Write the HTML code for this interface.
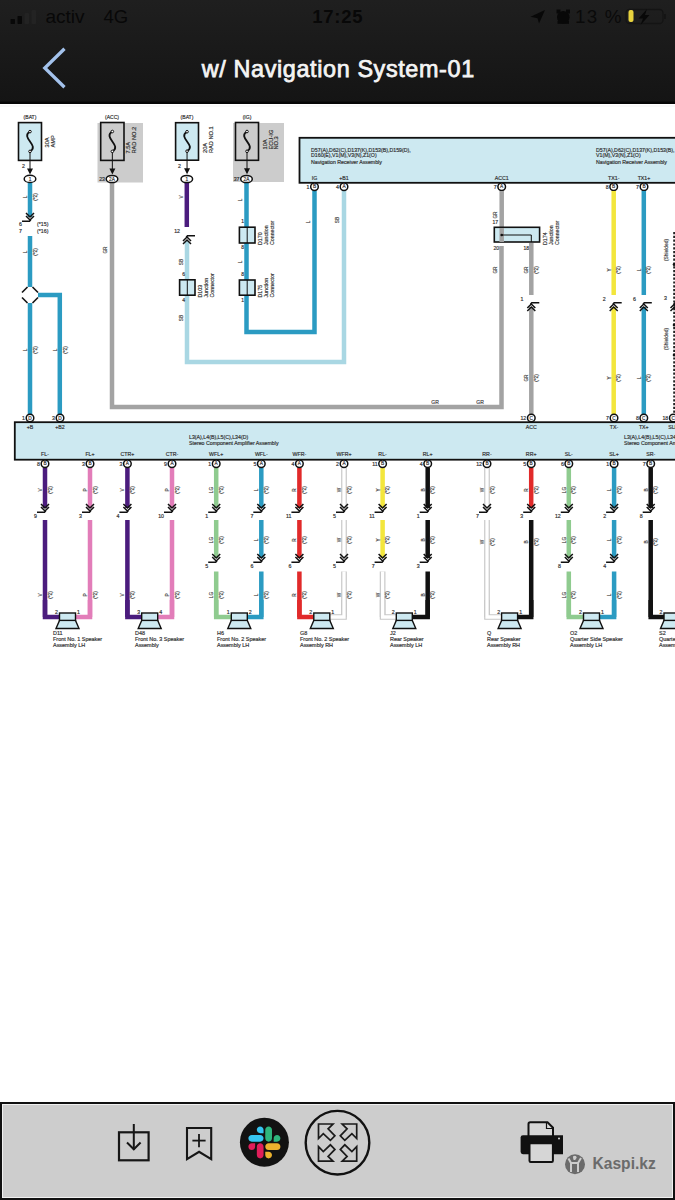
<!DOCTYPE html><html><head><meta charset='utf-8'><style>
html,body{margin:0;padding:0;background:#fff;}
body{width:675px;height:1200px;overflow:hidden;position:relative;font-family:"Liberation Sans",sans-serif;}
svg{position:absolute;left:0;top:0;}
</style></head><body>
<svg width='675' height='1200' viewBox='0 0 675 1200' font-family='Liberation Sans, sans-serif'>
<defs><linearGradient id='hg' x1='0' y1='0' x2='0' y2='1'>
<stop offset='0' stop-color='#1f1f1f'/><stop offset='1' stop-color='#141414'/></linearGradient></defs>
<rect x='0' y='0' width='675' height='1200' fill='#fff'/>
<g id='diagram'>
<rect x='97.5' y='123' width='45.5' height='59.5' fill='#cccccc'/>
<rect x='233' y='123' width='51' height='59' fill='#cccccc'/>
<rect x='299.5' y='137.8' width='400' height='45' fill='#cde9f1' stroke='#111' stroke-width='1.8'/>
<rect x='14.8' y='422.2' width='700' height='37.5' fill='#cde9f1' stroke='#111' stroke-width='1.8'/>
<rect x='18.5' y='122.6' width='23.0' height='37.80000000000001' fill='#cde9f1' stroke='#111' stroke-width='1.6'/>
<path d='M30.0,131.6 C20.0,137.54 40.0,145.46 30.0,151.4' fill='none' stroke='#111' stroke-width='1.8'/>
<circle cx='30.0' cy='131.6' r='1.3' fill='#fff' stroke='#111' stroke-width='1'/>
<circle cx='30.0' cy='151.4' r='1.3' fill='#fff' stroke='#111' stroke-width='1'/>
<line x1='30.0' y1='152.4' x2='30.0' y2='172.4' stroke='#111' stroke-width='1'/>
<polygon points='27.0,168.4 33.0,168.4 30.0,174.4' fill='#111'/>
<text x='30' y='119' font-size='5.04' text-anchor='middle' fill='#333' font-weight='normal' stroke='#333' stroke-width='0.18'>(BAT)</text>
<text x='49' y='147.5' font-size='5.67' text-anchor='start' fill='#333' font-weight='normal' stroke='#333' stroke-width='0.18' transform='rotate(-90 49 147.5)'>30A</text>
<text x='54.5' y='147.5' font-size='5.67' text-anchor='start' fill='#333' font-weight='normal' stroke='#333' stroke-width='0.18' transform='rotate(-90 54.5 147.5)'>AMP</text>
<text x='25' y='168' font-size='5.25' text-anchor='end' fill='#333' font-weight='normal' stroke='#333' stroke-width='0.18'>2</text>
<rect x='27.75' y='182' width='4.5' height='35' fill='#2b9bc2'/>
<text x='27' y='197' font-size='4.73' text-anchor='middle' fill='#444' font-weight='normal' stroke='#444' stroke-width='0.18' transform='rotate(-90 27 197)'>L</text>
<text x='36.5' y='197' font-size='4.73' text-anchor='middle' fill='#444' font-weight='normal' stroke='#444' stroke-width='0.18' transform='rotate(-90 36.5 197)'>(*2)</text>
<polyline points='26,216 30,220 34,216' fill='none' stroke='#111' stroke-width='1.5'/>
<polyline points='26,213 30,217 34,213' fill='none' stroke='#111' stroke-width='1.5'/>
<polyline points='22,221.3 29.5,221.3 30.8,219.8' fill='none' stroke='#111' stroke-width='1.5'/>
<text x='22' y='226' font-size='5.25' text-anchor='end' fill='#333' font-weight='normal' stroke='#333' stroke-width='0.18'>6</text>
<text x='37' y='226' font-size='5.25' text-anchor='start' fill='#333' font-weight='normal' stroke='#333' stroke-width='0.18'>(*15)</text>
<text x='22' y='233' font-size='5.25' text-anchor='end' fill='#333' font-weight='normal' stroke='#333' stroke-width='0.18'>7</text>
<text x='37' y='233' font-size='5.25' text-anchor='start' fill='#333' font-weight='normal' stroke='#333' stroke-width='0.18'>(*16)</text>
<rect x='27.75' y='236' width='4.5' height='51' fill='#2b9bc2'/>
<text x='27' y='252' font-size='4.73' text-anchor='middle' fill='#444' font-weight='normal' stroke='#444' stroke-width='0.18' transform='rotate(-90 27 252)'>L</text>
<text x='36.5' y='252' font-size='4.73' text-anchor='middle' fill='#444' font-weight='normal' stroke='#444' stroke-width='0.18' transform='rotate(-90 36.5 252)'>(*2)</text>
<polyline points='38,295 59.8,295 59.8,414' fill='none' stroke='#2b9bc2' stroke-width='4.5' stroke-linejoin='miter'/>
<rect x='27.75' y='303' width='4.5' height='111' fill='#2b9bc2'/>
<text x='27' y='350' font-size='4.73' text-anchor='middle' fill='#444' font-weight='normal' stroke='#444' stroke-width='0.18' transform='rotate(-90 27 350)'>L</text>
<text x='36.5' y='350' font-size='4.73' text-anchor='middle' fill='#444' font-weight='normal' stroke='#444' stroke-width='0.18' transform='rotate(-90 36.5 350)'>(*2)</text>
<text x='57' y='350' font-size='4.73' text-anchor='middle' fill='#444' font-weight='normal' stroke='#444' stroke-width='0.18' transform='rotate(-90 57 350)'>L</text>
<text x='66.5' y='350' font-size='4.73' text-anchor='middle' fill='#444' font-weight='normal' stroke='#444' stroke-width='0.18' transform='rotate(-90 66.5 350)'>(*2)</text>
<line x1='32.52' y1='287.02' x2='37.98' y2='292.48' stroke='#111' stroke-width='1.6'/>
<line x1='37.98' y1='297.52' x2='32.52' y2='302.98' stroke='#111' stroke-width='1.6'/>
<line x1='27.48' y1='302.98' x2='22.02' y2='297.52' stroke='#111' stroke-width='1.6'/>
<line x1='22.02' y1='292.48' x2='27.48' y2='287.02' stroke='#111' stroke-width='1.6'/>
<ellipse cx='30' cy='178.9' rx='5.8' ry='3.6' fill='#fff' stroke='#111' stroke-width='1.5'/>
<text x='30' y='180.5' font-size='4.73' text-anchor='middle' fill='#333' font-weight='normal' stroke='#333' stroke-width='0.18'>1</text>
<rect x='100.7' y='122.5' width='23.299999999999997' height='37.900000000000006' fill='#cccccc' stroke='#111' stroke-width='1.6'/>
<path d='M112.35,131.5 C102.35,137.47 122.35,145.43 112.35,151.4' fill='none' stroke='#111' stroke-width='1.8'/>
<circle cx='112.35' cy='131.5' r='1.3' fill='#fff' stroke='#111' stroke-width='1'/>
<circle cx='112.35' cy='151.4' r='1.3' fill='#fff' stroke='#111' stroke-width='1'/>
<line x1='112.35' y1='152.4' x2='112.35' y2='172.4' stroke='#111' stroke-width='1'/>
<polygon points='109.35,168.4 115.35,168.4 112.35,174.4' fill='#111'/>
<text x='112' y='119' font-size='5.04' text-anchor='middle' fill='#333' font-weight='normal' stroke='#333' stroke-width='0.18'>(ACC)</text>
<text x='130.3' y='153.5' font-size='5.67' text-anchor='start' fill='#333' font-weight='normal' stroke='#333' stroke-width='0.18' transform='rotate(-90 130.3 153.5)'>7.5A</text>
<text x='135.8' y='153.5' font-size='5.67' text-anchor='start' fill='#333' font-weight='normal' stroke='#333' stroke-width='0.18' transform='rotate(-90 135.8 153.5)'>RAD NO.2</text>
<polyline points='112,183 112,407 501.5,407 501.5,246' fill='none' stroke='#a3a3a3' stroke-width='4.5' stroke-linejoin='miter'/>
<text x='107' y='250' font-size='4.73' text-anchor='middle' fill='#444' font-weight='normal' stroke='#444' stroke-width='0.18' transform='rotate(-90 107 250)'>GR</text>
<text x='435' y='404' font-size='5.04' text-anchor='middle' fill='#444' font-weight='normal' stroke='#444' stroke-width='0.18'>GR</text>
<text x='480' y='404' font-size='5.04' text-anchor='middle' fill='#444' font-weight='normal' stroke='#444' stroke-width='0.18'>GR</text>
<ellipse cx='112' cy='179' rx='5.8' ry='3.6' fill='#fff' stroke='#111' stroke-width='1.5'/>
<text x='112' y='180.6' font-size='4.73' text-anchor='middle' fill='#333' font-weight='normal' stroke='#333' stroke-width='0.18'>2A</text>
<text x='105' y='180.8' font-size='5.25' text-anchor='end' fill='#333' font-weight='normal' stroke='#333' stroke-width='0.18'>23</text>
<rect x='175.6' y='122.7' width='22.900000000000006' height='37.499999999999986' fill='#cde9f1' stroke='#111' stroke-width='1.6'/>
<path d='M187.05,131.7 C177.05,137.54999999999998 197.05,145.35 187.05,151.2' fill='none' stroke='#111' stroke-width='1.8'/>
<circle cx='187.05' cy='131.7' r='1.3' fill='#fff' stroke='#111' stroke-width='1'/>
<circle cx='187.05' cy='151.2' r='1.3' fill='#fff' stroke='#111' stroke-width='1'/>
<line x1='187.05' y1='152.2' x2='187.05' y2='172.2' stroke='#111' stroke-width='1'/>
<polygon points='184.05,168.2 190.05,168.2 187.05,174.2' fill='#111'/>
<text x='187' y='119' font-size='5.04' text-anchor='middle' fill='#333' font-weight='normal' stroke='#333' stroke-width='0.18'>(BAT)</text>
<text x='207' y='153' font-size='5.67' text-anchor='start' fill='#333' font-weight='normal' stroke='#333' stroke-width='0.18' transform='rotate(-90 207 153)'>20A</text>
<text x='212.5' y='153' font-size='5.67' text-anchor='start' fill='#333' font-weight='normal' stroke='#333' stroke-width='0.18' transform='rotate(-90 212.5 153)'>RAD NO.1</text>
<text x='181' y='168' font-size='5.25' text-anchor='end' fill='#333' font-weight='normal' stroke='#333' stroke-width='0.18'>2</text>
<rect x='184.55' y='183' width='4.5' height='44' fill='#4b1c7d'/>
<text x='183' y='197' font-size='4.73' text-anchor='middle' fill='#444' font-weight='normal' stroke='#444' stroke-width='0.18' transform='rotate(-90 183 197)'>V</text>
<text x='180' y='233' font-size='5.25' text-anchor='end' fill='#333' font-weight='normal' stroke='#333' stroke-width='0.18'>12</text>
<polyline points='187,241 187,362 344,362 344,191' fill='none' stroke='#a9d7e3' stroke-width='4.5' stroke-linejoin='miter'/>
<polyline points='183,241 187,237 191,241' fill='none' stroke='#111' stroke-width='1.5'/>
<polyline points='183,244 187,240 191,244' fill='none' stroke='#111' stroke-width='1.5'/>
<polyline points='195,235.7 187.5,235.7 186.2,237.2' fill='none' stroke='#111' stroke-width='1.5'/>
<text x='183' y='262' font-size='4.73' text-anchor='middle' fill='#444' font-weight='normal' stroke='#444' stroke-width='0.18' transform='rotate(-90 183 262)'>SB</text>
<text x='183' y='318' font-size='4.73' text-anchor='middle' fill='#444' font-weight='normal' stroke='#444' stroke-width='0.18' transform='rotate(-90 183 318)'>SB</text>
<text x='339' y='220' font-size='4.73' text-anchor='middle' fill='#444' font-weight='normal' stroke='#444' stroke-width='0.18' transform='rotate(-90 339 220)'>SB</text>
<rect x='179.6' y='279.8' width='15.400000000000006' height='15.399999999999977' fill='#cde9f1' stroke='#111' stroke-width='1.6'/>
<line x1='187.3' y1='279.8' x2='187.3' y2='295.2' stroke='#111' stroke-width='1'/>
<text x='185' y='276' font-size='5.04' text-anchor='end' fill='#333' font-weight='normal' stroke='#333' stroke-width='0.18'>6</text>
<text x='185' y='302' font-size='5.04' text-anchor='end' fill='#333' font-weight='normal' stroke='#333' stroke-width='0.18'>4</text>
<text x='201.8' y='297.5' font-size='5.25' text-anchor='start' fill='#333' font-weight='normal' stroke='#333' stroke-width='0.18' transform='rotate(-90 201.8 297.5)'>D103</text>
<text x='207.8' y='297.5' font-size='5.25' text-anchor='start' fill='#333' font-weight='normal' stroke='#333' stroke-width='0.18' transform='rotate(-90 207.8 297.5)'>Junction</text>
<text x='213.8' y='297.5' font-size='5.25' text-anchor='start' fill='#333' font-weight='normal' stroke='#333' stroke-width='0.18' transform='rotate(-90 213.8 297.5)'>Connector</text>
<ellipse cx='186.8' cy='179' rx='5.8' ry='3.6' fill='#fff' stroke='#111' stroke-width='1.5'/>
<text x='186.8' y='180.6' font-size='4.73' text-anchor='middle' fill='#333' font-weight='normal' stroke='#333' stroke-width='0.18'>1</text>
<rect x='235.5' y='122.5' width='23.0' height='37.80000000000001' fill='#cccccc' stroke='#111' stroke-width='1.6'/>
<path d='M247.0,131.5 C237.0,137.44 257.0,145.36 247.0,151.3' fill='none' stroke='#111' stroke-width='1.8'/>
<circle cx='247.0' cy='131.5' r='1.3' fill='#fff' stroke='#111' stroke-width='1'/>
<circle cx='247.0' cy='151.3' r='1.3' fill='#fff' stroke='#111' stroke-width='1'/>
<line x1='247.0' y1='152.3' x2='247.0' y2='172.3' stroke='#111' stroke-width='1'/>
<polygon points='244.0,168.3 250.0,168.3 247.0,174.3' fill='#111'/>
<text x='247' y='119' font-size='5.04' text-anchor='middle' fill='#333' font-weight='normal' stroke='#333' stroke-width='0.18'>(IG)</text>
<text x='267' y='149.5' font-size='5.67' text-anchor='start' fill='#333' font-weight='normal' stroke='#333' stroke-width='0.18' transform='rotate(-90 267 149.5)'>10A</text>
<text x='272.5' y='149.5' font-size='5.67' text-anchor='start' fill='#333' font-weight='normal' stroke='#333' stroke-width='0.18' transform='rotate(-90 272.5 149.5)'>ECU-IG</text>
<text x='278' y='149.5' font-size='5.67' text-anchor='start' fill='#333' font-weight='normal' stroke='#333' stroke-width='0.18' transform='rotate(-90 278 149.5)'>NO.3</text>
<polyline points='246.5,183 246.5,332 314.5,332 314.5,191' fill='none' stroke='#2b9bc2' stroke-width='4.5' stroke-linejoin='miter'/>
<text x='242' y='200' font-size='4.73' text-anchor='middle' fill='#444' font-weight='normal' stroke='#444' stroke-width='0.18' transform='rotate(-90 242 200)'>L</text>
<text x='242' y='262' font-size='4.73' text-anchor='middle' fill='#444' font-weight='normal' stroke='#444' stroke-width='0.18' transform='rotate(-90 242 262)'>L</text>
<text x='310' y='222' font-size='4.73' text-anchor='middle' fill='#444' font-weight='normal' stroke='#444' stroke-width='0.18' transform='rotate(-90 310 222)'>L</text>
<rect x='239.4' y='227.2' width='15.599999999999994' height='15.800000000000011' fill='#cde9f1' stroke='#111' stroke-width='1.6'/>
<line x1='247.2' y1='227.2' x2='247.2' y2='243' stroke='#111' stroke-width='1'/>
<text x='244' y='223' font-size='5.04' text-anchor='end' fill='#333' font-weight='normal' stroke='#333' stroke-width='0.18'>1</text>
<text x='244' y='249' font-size='5.04' text-anchor='end' fill='#333' font-weight='normal' stroke='#333' stroke-width='0.18'>8</text>
<text x='261.8' y='245' font-size='5.25' text-anchor='start' fill='#333' font-weight='normal' stroke='#333' stroke-width='0.18' transform='rotate(-90 261.8 245)'>D170</text>
<text x='267.8' y='245' font-size='5.25' text-anchor='start' fill='#333' font-weight='normal' stroke='#333' stroke-width='0.18' transform='rotate(-90 267.8 245)'>Junction</text>
<text x='273.8' y='245' font-size='5.25' text-anchor='start' fill='#333' font-weight='normal' stroke='#333' stroke-width='0.18' transform='rotate(-90 273.8 245)'>Connector</text>
<rect x='239.4' y='280' width='15.599999999999994' height='15.199999999999989' fill='#cde9f1' stroke='#111' stroke-width='1.6'/>
<line x1='247.2' y1='280' x2='247.2' y2='295.2' stroke='#111' stroke-width='1'/>
<text x='244' y='276' font-size='5.04' text-anchor='end' fill='#333' font-weight='normal' stroke='#333' stroke-width='0.18'>8</text>
<text x='244' y='302' font-size='5.04' text-anchor='end' fill='#333' font-weight='normal' stroke='#333' stroke-width='0.18'>1</text>
<text x='261.8' y='297.5' font-size='5.25' text-anchor='start' fill='#333' font-weight='normal' stroke='#333' stroke-width='0.18' transform='rotate(-90 261.8 297.5)'>D175</text>
<text x='267.8' y='297.5' font-size='5.25' text-anchor='start' fill='#333' font-weight='normal' stroke='#333' stroke-width='0.18' transform='rotate(-90 267.8 297.5)'>Junction</text>
<text x='273.8' y='297.5' font-size='5.25' text-anchor='start' fill='#333' font-weight='normal' stroke='#333' stroke-width='0.18' transform='rotate(-90 273.8 297.5)'>Connector</text>
<ellipse cx='246.5' cy='179' rx='5.8' ry='3.6' fill='#fff' stroke='#111' stroke-width='1.5'/>
<text x='246.5' y='180.6' font-size='4.73' text-anchor='middle' fill='#333' font-weight='normal' stroke='#333' stroke-width='0.18'>2A</text>
<text x='239.5' y='180.8' font-size='5.25' text-anchor='end' fill='#333' font-weight='normal' stroke='#333' stroke-width='0.18'>37</text>
<text x='311' y='151.5' font-size='5.25' text-anchor='start' fill='#333' font-weight='normal' stroke='#333' stroke-width='0.18'>D57(A),D62(C),D137(K),D153(B),D159(D),</text>
<text x='311' y='157' font-size='5.25' text-anchor='start' fill='#333' font-weight='normal' stroke='#333' stroke-width='0.18'>D160(E),V1(M),V3(N),Z1(O)</text>
<text x='311' y='163.5' font-size='5.25' text-anchor='start' fill='#333' font-weight='normal' stroke='#333' stroke-width='0.18'>Navigation Receiver Assembly</text>
<text x='596' y='151.5' font-size='5.25' text-anchor='start' fill='#333' font-weight='normal' stroke='#333' stroke-width='0.18'>D57(A),D62(C),D137(K),D153(B),</text>
<text x='596' y='157' font-size='5.25' text-anchor='start' fill='#333' font-weight='normal' stroke='#333' stroke-width='0.18'>V1(M),V3(N),Z1(O)</text>
<text x='596' y='163.5' font-size='5.25' text-anchor='start' fill='#333' font-weight='normal' stroke='#333' stroke-width='0.18'>Navigation Receiver Assembly</text>
<text x='314.5' y='179.5' font-size='5.25' text-anchor='middle' fill='#333' font-weight='normal' stroke='#333' stroke-width='0.18'>IG</text>
<text x='344' y='179.5' font-size='5.25' text-anchor='middle' fill='#333' font-weight='normal' stroke='#333' stroke-width='0.18'>+B1</text>
<text x='501.7' y='179.5' font-size='5.25' text-anchor='middle' fill='#333' font-weight='normal' stroke='#333' stroke-width='0.18'>ACC1</text>
<text x='613.7' y='179.5' font-size='5.25' text-anchor='middle' fill='#333' font-weight='normal' stroke='#333' stroke-width='0.18'>TX1-</text>
<text x='644' y='179.5' font-size='5.25' text-anchor='middle' fill='#333' font-weight='normal' stroke='#333' stroke-width='0.18'>TX1+</text>
<circle cx='314.5' cy='186.7' r='3.8' fill='#fff' stroke='#111' stroke-width='1.5'/>
<text x='314.5' y='188.39999999999998' font-size='4.73' text-anchor='middle' fill='#333' font-weight='normal' stroke='#333' stroke-width='0.18'>B</text>
<text x='309.5' y='188.5' font-size='5.25' text-anchor='end' fill='#333' font-weight='normal' stroke='#333' stroke-width='0.18'>1</text>
<circle cx='344' cy='186.7' r='3.8' fill='#fff' stroke='#111' stroke-width='1.5'/>
<text x='344' y='188.39999999999998' font-size='4.73' text-anchor='middle' fill='#333' font-weight='normal' stroke='#333' stroke-width='0.18'>A</text>
<text x='339' y='188.5' font-size='5.25' text-anchor='end' fill='#333' font-weight='normal' stroke='#333' stroke-width='0.18'>4</text>
<circle cx='501.7' cy='186.7' r='3.8' fill='#fff' stroke='#111' stroke-width='1.5'/>
<text x='501.7' y='188.39999999999998' font-size='4.73' text-anchor='middle' fill='#333' font-weight='normal' stroke='#333' stroke-width='0.18'>A</text>
<text x='496.7' y='188.5' font-size='5.25' text-anchor='end' fill='#333' font-weight='normal' stroke='#333' stroke-width='0.18'>7</text>
<circle cx='613.7' cy='186.7' r='3.8' fill='#fff' stroke='#111' stroke-width='1.5'/>
<text x='613.7' y='188.39999999999998' font-size='4.73' text-anchor='middle' fill='#333' font-weight='normal' stroke='#333' stroke-width='0.18'>B</text>
<text x='608.7' y='188.5' font-size='5.25' text-anchor='end' fill='#333' font-weight='normal' stroke='#333' stroke-width='0.18'>8</text>
<circle cx='644' cy='186.7' r='3.8' fill='#fff' stroke='#111' stroke-width='1.5'/>
<text x='644' y='188.39999999999998' font-size='4.73' text-anchor='middle' fill='#333' font-weight='normal' stroke='#333' stroke-width='0.18'>B</text>
<text x='639' y='188.5' font-size='5.25' text-anchor='end' fill='#333' font-weight='normal' stroke='#333' stroke-width='0.18'>7</text>
<rect x='499.45' y='191' width='4.5' height='37' fill='#a3a3a3'/>
<text x='497' y='215' font-size='4.73' text-anchor='middle' fill='#444' font-weight='normal' stroke='#444' stroke-width='0.18' transform='rotate(-90 497 215)'>GR</text>
<text x='498' y='223.5' font-size='5.04' text-anchor='end' fill='#333' font-weight='normal' stroke='#333' stroke-width='0.18'>17</text>
<rect x='494.3' y='227.3' width='45.30000000000001' height='14.699999999999989' fill='#cde9f1' stroke='#111' stroke-width='1.6'/>
<rect x='499.45' y='228' width='4.5' height='14' fill='#a3a3a3'/>
<polyline points='501.7,235 531.3,235 531.3,242' fill='none' stroke='#111' stroke-width='1'/>
<circle cx='501.7' cy='235' r='1.3' fill='#111'/>
<text x='499' y='250' font-size='5.04' text-anchor='end' fill='#333' font-weight='normal' stroke='#333' stroke-width='0.18'>20</text>
<text x='529' y='250' font-size='5.04' text-anchor='end' fill='#333' font-weight='normal' stroke='#333' stroke-width='0.18'>18</text>
<text x='546.8' y='245' font-size='5.25' text-anchor='start' fill='#333' font-weight='normal' stroke='#333' stroke-width='0.18' transform='rotate(-90 546.8 245)'>D174</text>
<text x='552.8' y='245' font-size='5.25' text-anchor='start' fill='#333' font-weight='normal' stroke='#333' stroke-width='0.18' transform='rotate(-90 552.8 245)'>Junction</text>
<text x='558.8' y='245' font-size='5.25' text-anchor='start' fill='#333' font-weight='normal' stroke='#333' stroke-width='0.18' transform='rotate(-90 558.8 245)'>Connector</text>
<text x='497' y='270' font-size='4.73' text-anchor='middle' fill='#444' font-weight='normal' stroke='#444' stroke-width='0.18' transform='rotate(-90 497 270)'>GR</text>
<rect x='529.05' y='243' width='4.5' height='52' fill='#a3a3a3'/>
<text x='528.3' y='270' font-size='4.73' text-anchor='middle' fill='#444' font-weight='normal' stroke='#444' stroke-width='0.18' transform='rotate(-90 528.3 270)'>GR</text>
<text x='537.8' y='270' font-size='4.73' text-anchor='middle' fill='#444' font-weight='normal' stroke='#444' stroke-width='0.18' transform='rotate(-90 537.8 270)'>(*2)</text>
<rect x='529.05' y='307' width='4.5' height='107' fill='#a3a3a3'/>
<text x='528.3' y='378' font-size='4.73' text-anchor='middle' fill='#444' font-weight='normal' stroke='#444' stroke-width='0.18' transform='rotate(-90 528.3 378)'>GR</text>
<text x='537.8' y='378' font-size='4.73' text-anchor='middle' fill='#444' font-weight='normal' stroke='#444' stroke-width='0.18' transform='rotate(-90 537.8 378)'>(*2)</text>
<polyline points='527.3,308 531.3,304 535.3,308' fill='none' stroke='#111' stroke-width='1.5'/>
<polyline points='527.3,311 531.3,307 535.3,311' fill='none' stroke='#111' stroke-width='1.5'/>
<polyline points='539.3,302.7 531.8,302.7 530.5,304.2' fill='none' stroke='#111' stroke-width='1.5'/>
<text x='523.3' y='301' font-size='5.25' text-anchor='end' fill='#333' font-weight='normal' stroke='#333' stroke-width='0.18'>1</text>
<rect x='611.45' y='191' width='4.5' height='104' fill='#f3e63c'/>
<text x='610.7' y='270' font-size='4.73' text-anchor='middle' fill='#444' font-weight='normal' stroke='#444' stroke-width='0.18' transform='rotate(-90 610.7 270)'>Y</text>
<text x='620.2' y='270' font-size='4.73' text-anchor='middle' fill='#444' font-weight='normal' stroke='#444' stroke-width='0.18' transform='rotate(-90 620.2 270)'>(*2)</text>
<rect x='611.45' y='307' width='4.5' height='107' fill='#f3e63c'/>
<text x='610.7' y='378' font-size='4.73' text-anchor='middle' fill='#444' font-weight='normal' stroke='#444' stroke-width='0.18' transform='rotate(-90 610.7 378)'>Y</text>
<text x='620.2' y='378' font-size='4.73' text-anchor='middle' fill='#444' font-weight='normal' stroke='#444' stroke-width='0.18' transform='rotate(-90 620.2 378)'>(*2)</text>
<polyline points='609.7,308 613.7,304 617.7,308' fill='none' stroke='#111' stroke-width='1.5'/>
<polyline points='609.7,311 613.7,307 617.7,311' fill='none' stroke='#111' stroke-width='1.5'/>
<polyline points='621.7,302.7 614.2,302.7 612.9000000000001,304.2' fill='none' stroke='#111' stroke-width='1.5'/>
<text x='605.7' y='301' font-size='5.25' text-anchor='end' fill='#333' font-weight='normal' stroke='#333' stroke-width='0.18'>2</text>
<rect x='641.55' y='191' width='4.5' height='104' fill='#2b9bc2'/>
<text x='640.8' y='270' font-size='4.73' text-anchor='middle' fill='#444' font-weight='normal' stroke='#444' stroke-width='0.18' transform='rotate(-90 640.8 270)'>L</text>
<text x='650.3' y='270' font-size='4.73' text-anchor='middle' fill='#444' font-weight='normal' stroke='#444' stroke-width='0.18' transform='rotate(-90 650.3 270)'>(*2)</text>
<rect x='641.55' y='307' width='4.5' height='107' fill='#2b9bc2'/>
<text x='640.8' y='378' font-size='4.73' text-anchor='middle' fill='#444' font-weight='normal' stroke='#444' stroke-width='0.18' transform='rotate(-90 640.8 378)'>L</text>
<text x='650.3' y='378' font-size='4.73' text-anchor='middle' fill='#444' font-weight='normal' stroke='#444' stroke-width='0.18' transform='rotate(-90 650.3 378)'>(*2)</text>
<polyline points='639.8,308 643.8,304 647.8,308' fill='none' stroke='#111' stroke-width='1.5'/>
<polyline points='639.8,311 643.8,307 647.8,311' fill='none' stroke='#111' stroke-width='1.5'/>
<polyline points='651.8,302.7 644.3,302.7 643.0,304.2' fill='none' stroke='#111' stroke-width='1.5'/>
<text x='635.8' y='301' font-size='5.25' text-anchor='end' fill='#333' font-weight='normal' stroke='#333' stroke-width='0.18'>6</text>
<line x1='674.2' y1='232' x2='674.2' y2='414' stroke='#222' stroke-width='2' stroke-dasharray='2.2 1.6'/>
<polyline points='670.5,308 674.5,304 678.5,308' fill='none' stroke='#111' stroke-width='1.5'/>
<polyline points='670.5,311 674.5,307 678.5,311' fill='none' stroke='#111' stroke-width='1.5'/>
<polyline points='682.5,302.7 675.0,302.7 673.7,304.2' fill='none' stroke='#111' stroke-width='1.5'/>
<circle cx='674.2' cy='264.4' r='1.5' fill='#111'/>
<circle cx='674.2' cy='325' r='1.5' fill='#111'/>
<circle cx='674.2' cy='355' r='1.5' fill='#111'/>
<text x='668' y='250' font-size='4.83' text-anchor='middle' fill='#444' font-weight='normal' stroke='#444' stroke-width='0.18' transform='rotate(-90 668 250)'>(Shielded)</text>
<text x='668' y='339' font-size='4.83' text-anchor='middle' fill='#444' font-weight='normal' stroke='#444' stroke-width='0.18' transform='rotate(-90 668 339)'>(Shielded)</text>
<text x='667' y='300' font-size='5.25' text-anchor='end' fill='#333' font-weight='normal' stroke='#333' stroke-width='0.18'>3</text>
<circle cx='30' cy='418' r='3.8' fill='#fff' stroke='#111' stroke-width='1.5'/>
<text x='30' y='419.7' font-size='4.73' text-anchor='middle' fill='#333' font-weight='normal' stroke='#333' stroke-width='0.18'>D</text>
<text x='25' y='419.8' font-size='5.25' text-anchor='end' fill='#333' font-weight='normal' stroke='#333' stroke-width='0.18'>1</text>
<circle cx='60' cy='418' r='3.8' fill='#fff' stroke='#111' stroke-width='1.5'/>
<text x='60' y='419.7' font-size='4.73' text-anchor='middle' fill='#333' font-weight='normal' stroke='#333' stroke-width='0.18'>D</text>
<text x='55' y='419.8' font-size='5.25' text-anchor='end' fill='#333' font-weight='normal' stroke='#333' stroke-width='0.18'>3</text>
<circle cx='531.3' cy='418' r='3.8' fill='#fff' stroke='#111' stroke-width='1.5'/>
<text x='531.3' y='419.7' font-size='4.73' text-anchor='middle' fill='#333' font-weight='normal' stroke='#333' stroke-width='0.18'>C</text>
<text x='526.3' y='419.8' font-size='5.25' text-anchor='end' fill='#333' font-weight='normal' stroke='#333' stroke-width='0.18'>12</text>
<circle cx='614' cy='418' r='3.8' fill='#fff' stroke='#111' stroke-width='1.5'/>
<text x='614' y='419.7' font-size='4.73' text-anchor='middle' fill='#333' font-weight='normal' stroke='#333' stroke-width='0.18'>C</text>
<text x='609' y='419.8' font-size='5.25' text-anchor='end' fill='#333' font-weight='normal' stroke='#333' stroke-width='0.18'>7</text>
<circle cx='643.8' cy='418' r='3.8' fill='#fff' stroke='#111' stroke-width='1.5'/>
<text x='643.8' y='419.7' font-size='4.73' text-anchor='middle' fill='#333' font-weight='normal' stroke='#333' stroke-width='0.18'>C</text>
<text x='638.8' y='419.8' font-size='5.25' text-anchor='end' fill='#333' font-weight='normal' stroke='#333' stroke-width='0.18'>8</text>
<circle cx='673.3' cy='418' r='3.8' fill='#fff' stroke='#111' stroke-width='1.5'/>
<text x='673.3' y='419.7' font-size='4.73' text-anchor='middle' fill='#333' font-weight='normal' stroke='#333' stroke-width='0.18'>C</text>
<text x='668.3' y='419.8' font-size='5.25' text-anchor='end' fill='#333' font-weight='normal' stroke='#333' stroke-width='0.18'>18</text>
<text x='30' y='429' font-size='5.25' text-anchor='middle' fill='#333' font-weight='normal' stroke='#333' stroke-width='0.18'>+B</text>
<text x='60' y='429' font-size='5.25' text-anchor='middle' fill='#333' font-weight='normal' stroke='#333' stroke-width='0.18'>+B2</text>
<text x='531.3' y='429' font-size='5.25' text-anchor='middle' fill='#333' font-weight='normal' stroke='#333' stroke-width='0.18'>ACC</text>
<text x='614' y='429' font-size='5.25' text-anchor='middle' fill='#333' font-weight='normal' stroke='#333' stroke-width='0.18'>TX-</text>
<text x='643.8' y='429' font-size='5.25' text-anchor='middle' fill='#333' font-weight='normal' stroke='#333' stroke-width='0.18'>TX+</text>
<text x='673.3' y='429' font-size='5.25' text-anchor='middle' fill='#333' font-weight='normal' stroke='#333' stroke-width='0.18'>SLD</text>
<text x='189' y='438.5' font-size='5.25' text-anchor='start' fill='#333' font-weight='normal' stroke='#333' stroke-width='0.18'>L3(A),L4(B),L5(C),L34(D)</text>
<text x='189' y='444.5' font-size='5.25' text-anchor='start' fill='#333' font-weight='normal' stroke='#333' stroke-width='0.18'>Stereo Component Amplifier Assembly</text>
<text x='624' y='438.5' font-size='5.25' text-anchor='start' fill='#333' font-weight='normal' stroke='#333' stroke-width='0.18'>L3(A),L4(B),L5(C),L34(D)</text>
<text x='624' y='444.5' font-size='5.25' text-anchor='start' fill='#333' font-weight='normal' stroke='#333' stroke-width='0.18'>Stereo Component Amplifier Assembly</text>
<text x='45' y='456' font-size='5.25' text-anchor='middle' fill='#333' font-weight='normal' stroke='#333' stroke-width='0.18'>FL-</text>
<rect x='42.75' y='468' width='4.5' height='40' fill='#4b1c7d'/>
<text x='42' y='490' font-size='4.73' text-anchor='middle' fill='#444' font-weight='normal' stroke='#444' stroke-width='0.18' transform='rotate(-90 42 490)'>V</text>
<text x='51.5' y='490' font-size='4.73' text-anchor='middle' fill='#444' font-weight='normal' stroke='#444' stroke-width='0.18' transform='rotate(-90 51.5 490)'>(*2)</text>
<polyline points='41,507 45,511 49,507' fill='none' stroke='#111' stroke-width='1.5'/>
<polyline points='41,504 45,508 49,504' fill='none' stroke='#111' stroke-width='1.5'/>
<polyline points='37,512.3 44.5,512.3 45.8,510.8' fill='none' stroke='#111' stroke-width='1.5'/>
<text x='37' y='518' font-size='5.25' text-anchor='end' fill='#333' font-weight='normal' stroke='#333' stroke-width='0.18'>9</text>
<rect x='42.75' y='520' width='4.5' height='97' fill='#4b1c7d'/>
<text x='42' y='595' font-size='4.73' text-anchor='middle' fill='#444' font-weight='normal' stroke='#444' stroke-width='0.18' transform='rotate(-90 42 595)'>V</text>
<text x='51.5' y='595' font-size='4.73' text-anchor='middle' fill='#444' font-weight='normal' stroke='#444' stroke-width='0.18' transform='rotate(-90 51.5 595)'>(*2)</text>
<circle cx='45' cy='463.7' r='3.8' fill='#fff' stroke='#111' stroke-width='1.5'/>
<text x='45' y='465.4' font-size='4.73' text-anchor='middle' fill='#333' font-weight='normal' stroke='#333' stroke-width='0.18'>B</text>
<text x='40' y='465.5' font-size='5.25' text-anchor='end' fill='#333' font-weight='normal' stroke='#333' stroke-width='0.18'>8</text>
<text x='90' y='456' font-size='5.25' text-anchor='middle' fill='#333' font-weight='normal' stroke='#333' stroke-width='0.18'>FL+</text>
<rect x='87.75' y='468' width='4.5' height='40' fill='#e27db9'/>
<text x='87' y='490' font-size='4.73' text-anchor='middle' fill='#444' font-weight='normal' stroke='#444' stroke-width='0.18' transform='rotate(-90 87 490)'>P</text>
<text x='96.5' y='490' font-size='4.73' text-anchor='middle' fill='#444' font-weight='normal' stroke='#444' stroke-width='0.18' transform='rotate(-90 96.5 490)'>(*2)</text>
<polyline points='86,507 90,511 94,507' fill='none' stroke='#111' stroke-width='1.5'/>
<polyline points='86,504 90,508 94,504' fill='none' stroke='#111' stroke-width='1.5'/>
<polyline points='82,512.3 89.5,512.3 90.8,510.8' fill='none' stroke='#111' stroke-width='1.5'/>
<text x='82' y='518' font-size='5.25' text-anchor='end' fill='#333' font-weight='normal' stroke='#333' stroke-width='0.18'>3</text>
<rect x='87.75' y='520' width='4.5' height='97' fill='#e27db9'/>
<text x='87' y='595' font-size='4.73' text-anchor='middle' fill='#444' font-weight='normal' stroke='#444' stroke-width='0.18' transform='rotate(-90 87 595)'>P</text>
<text x='96.5' y='595' font-size='4.73' text-anchor='middle' fill='#444' font-weight='normal' stroke='#444' stroke-width='0.18' transform='rotate(-90 96.5 595)'>(*2)</text>
<circle cx='90' cy='463.7' r='3.8' fill='#fff' stroke='#111' stroke-width='1.5'/>
<text x='90' y='465.4' font-size='4.73' text-anchor='middle' fill='#333' font-weight='normal' stroke='#333' stroke-width='0.18'>B</text>
<text x='85' y='465.5' font-size='5.25' text-anchor='end' fill='#333' font-weight='normal' stroke='#333' stroke-width='0.18'>3</text>
<text x='127.4' y='456' font-size='5.25' text-anchor='middle' fill='#333' font-weight='normal' stroke='#333' stroke-width='0.18'>CTR+</text>
<rect x='125.15' y='468' width='4.5' height='40' fill='#4b1c7d'/>
<text x='124.4' y='490' font-size='4.73' text-anchor='middle' fill='#444' font-weight='normal' stroke='#444' stroke-width='0.18' transform='rotate(-90 124.4 490)'>V</text>
<text x='133.9' y='490' font-size='4.73' text-anchor='middle' fill='#444' font-weight='normal' stroke='#444' stroke-width='0.18' transform='rotate(-90 133.9 490)'>(*2)</text>
<polyline points='123.4,507 127.4,511 131.4,507' fill='none' stroke='#111' stroke-width='1.5'/>
<polyline points='123.4,504 127.4,508 131.4,504' fill='none' stroke='#111' stroke-width='1.5'/>
<polyline points='119.4,512.3 126.9,512.3 128.20000000000002,510.8' fill='none' stroke='#111' stroke-width='1.5'/>
<text x='119.4' y='518' font-size='5.25' text-anchor='end' fill='#333' font-weight='normal' stroke='#333' stroke-width='0.18'>4</text>
<rect x='125.15' y='520' width='4.5' height='97' fill='#4b1c7d'/>
<text x='124.4' y='595' font-size='4.73' text-anchor='middle' fill='#444' font-weight='normal' stroke='#444' stroke-width='0.18' transform='rotate(-90 124.4 595)'>V</text>
<text x='133.9' y='595' font-size='4.73' text-anchor='middle' fill='#444' font-weight='normal' stroke='#444' stroke-width='0.18' transform='rotate(-90 133.9 595)'>(*2)</text>
<circle cx='127.4' cy='463.7' r='3.8' fill='#fff' stroke='#111' stroke-width='1.5'/>
<text x='127.4' y='465.4' font-size='4.73' text-anchor='middle' fill='#333' font-weight='normal' stroke='#333' stroke-width='0.18'>A</text>
<text x='122.4' y='465.5' font-size='5.25' text-anchor='end' fill='#333' font-weight='normal' stroke='#333' stroke-width='0.18'>3</text>
<text x='172' y='456' font-size='5.25' text-anchor='middle' fill='#333' font-weight='normal' stroke='#333' stroke-width='0.18'>CTR-</text>
<rect x='169.75' y='468' width='4.5' height='40' fill='#e27db9'/>
<text x='169' y='490' font-size='4.73' text-anchor='middle' fill='#444' font-weight='normal' stroke='#444' stroke-width='0.18' transform='rotate(-90 169 490)'>P</text>
<text x='178.5' y='490' font-size='4.73' text-anchor='middle' fill='#444' font-weight='normal' stroke='#444' stroke-width='0.18' transform='rotate(-90 178.5 490)'>(*2)</text>
<polyline points='168,507 172,511 176,507' fill='none' stroke='#111' stroke-width='1.5'/>
<polyline points='168,504 172,508 176,504' fill='none' stroke='#111' stroke-width='1.5'/>
<polyline points='164,512.3 171.5,512.3 172.8,510.8' fill='none' stroke='#111' stroke-width='1.5'/>
<text x='164' y='518' font-size='5.25' text-anchor='end' fill='#333' font-weight='normal' stroke='#333' stroke-width='0.18'>10</text>
<rect x='169.75' y='520' width='4.5' height='97' fill='#e27db9'/>
<text x='169' y='595' font-size='4.73' text-anchor='middle' fill='#444' font-weight='normal' stroke='#444' stroke-width='0.18' transform='rotate(-90 169 595)'>P</text>
<text x='178.5' y='595' font-size='4.73' text-anchor='middle' fill='#444' font-weight='normal' stroke='#444' stroke-width='0.18' transform='rotate(-90 178.5 595)'>(*2)</text>
<circle cx='172' cy='463.7' r='3.8' fill='#fff' stroke='#111' stroke-width='1.5'/>
<text x='172' y='465.4' font-size='4.73' text-anchor='middle' fill='#333' font-weight='normal' stroke='#333' stroke-width='0.18'>A</text>
<text x='167' y='465.5' font-size='5.25' text-anchor='end' fill='#333' font-weight='normal' stroke='#333' stroke-width='0.18'>9</text>
<text x='216.2' y='456' font-size='5.25' text-anchor='middle' fill='#333' font-weight='normal' stroke='#333' stroke-width='0.18'>WFL+</text>
<rect x='213.95' y='468' width='4.5' height='40' fill='#8fcb8f'/>
<text x='213.2' y='490' font-size='4.73' text-anchor='middle' fill='#444' font-weight='normal' stroke='#444' stroke-width='0.18' transform='rotate(-90 213.2 490)'>LG</text>
<text x='222.7' y='490' font-size='4.73' text-anchor='middle' fill='#444' font-weight='normal' stroke='#444' stroke-width='0.18' transform='rotate(-90 222.7 490)'>(*2)</text>
<polyline points='212.2,507 216.2,511 220.2,507' fill='none' stroke='#111' stroke-width='1.5'/>
<polyline points='212.2,504 216.2,508 220.2,504' fill='none' stroke='#111' stroke-width='1.5'/>
<polyline points='208.2,512.3 215.7,512.3 217.0,510.8' fill='none' stroke='#111' stroke-width='1.5'/>
<text x='208.2' y='518' font-size='5.25' text-anchor='end' fill='#333' font-weight='normal' stroke='#333' stroke-width='0.18'>1</text>
<rect x='213.95' y='520' width='4.5' height='38' fill='#8fcb8f'/>
<text x='213.2' y='540' font-size='4.73' text-anchor='middle' fill='#444' font-weight='normal' stroke='#444' stroke-width='0.18' transform='rotate(-90 213.2 540)'>LG</text>
<text x='222.7' y='540' font-size='4.73' text-anchor='middle' fill='#444' font-weight='normal' stroke='#444' stroke-width='0.18' transform='rotate(-90 222.7 540)'>(*2)</text>
<polyline points='212.2,557 216.2,561 220.2,557' fill='none' stroke='#111' stroke-width='1.5'/>
<polyline points='212.2,554 216.2,558 220.2,554' fill='none' stroke='#111' stroke-width='1.5'/>
<polyline points='208.2,562.3 215.7,562.3 217.0,560.8' fill='none' stroke='#111' stroke-width='1.5'/>
<text x='208.2' y='568' font-size='5.25' text-anchor='end' fill='#333' font-weight='normal' stroke='#333' stroke-width='0.18'>5</text>
<rect x='213.95' y='571.5' width='4.5' height='45.5' fill='#8fcb8f'/>
<text x='213.2' y='595' font-size='4.73' text-anchor='middle' fill='#444' font-weight='normal' stroke='#444' stroke-width='0.18' transform='rotate(-90 213.2 595)'>LG</text>
<text x='222.7' y='595' font-size='4.73' text-anchor='middle' fill='#444' font-weight='normal' stroke='#444' stroke-width='0.18' transform='rotate(-90 222.7 595)'>(*2)</text>
<circle cx='216.2' cy='463.7' r='3.8' fill='#fff' stroke='#111' stroke-width='1.5'/>
<text x='216.2' y='465.4' font-size='4.73' text-anchor='middle' fill='#333' font-weight='normal' stroke='#333' stroke-width='0.18'>A</text>
<text x='211.2' y='465.5' font-size='5.25' text-anchor='end' fill='#333' font-weight='normal' stroke='#333' stroke-width='0.18'>1</text>
<text x='261.3' y='456' font-size='5.25' text-anchor='middle' fill='#333' font-weight='normal' stroke='#333' stroke-width='0.18'>WFL-</text>
<rect x='259.05' y='468' width='4.5' height='40' fill='#2b9bc2'/>
<text x='258.3' y='490' font-size='4.73' text-anchor='middle' fill='#444' font-weight='normal' stroke='#444' stroke-width='0.18' transform='rotate(-90 258.3 490)'>L</text>
<text x='267.8' y='490' font-size='4.73' text-anchor='middle' fill='#444' font-weight='normal' stroke='#444' stroke-width='0.18' transform='rotate(-90 267.8 490)'>(*2)</text>
<polyline points='257.3,507 261.3,511 265.3,507' fill='none' stroke='#111' stroke-width='1.5'/>
<polyline points='257.3,504 261.3,508 265.3,504' fill='none' stroke='#111' stroke-width='1.5'/>
<polyline points='253.3,512.3 260.8,512.3 262.1,510.8' fill='none' stroke='#111' stroke-width='1.5'/>
<text x='253.3' y='518' font-size='5.25' text-anchor='end' fill='#333' font-weight='normal' stroke='#333' stroke-width='0.18'>7</text>
<rect x='259.05' y='520' width='4.5' height='38' fill='#2b9bc2'/>
<text x='258.3' y='540' font-size='4.73' text-anchor='middle' fill='#444' font-weight='normal' stroke='#444' stroke-width='0.18' transform='rotate(-90 258.3 540)'>L</text>
<text x='267.8' y='540' font-size='4.73' text-anchor='middle' fill='#444' font-weight='normal' stroke='#444' stroke-width='0.18' transform='rotate(-90 267.8 540)'>(*2)</text>
<polyline points='257.3,557 261.3,561 265.3,557' fill='none' stroke='#111' stroke-width='1.5'/>
<polyline points='257.3,554 261.3,558 265.3,554' fill='none' stroke='#111' stroke-width='1.5'/>
<polyline points='253.3,562.3 260.8,562.3 262.1,560.8' fill='none' stroke='#111' stroke-width='1.5'/>
<text x='253.3' y='568' font-size='5.25' text-anchor='end' fill='#333' font-weight='normal' stroke='#333' stroke-width='0.18'>6</text>
<rect x='259.05' y='571.5' width='4.5' height='45.5' fill='#2b9bc2'/>
<text x='258.3' y='595' font-size='4.73' text-anchor='middle' fill='#444' font-weight='normal' stroke='#444' stroke-width='0.18' transform='rotate(-90 258.3 595)'>L</text>
<text x='267.8' y='595' font-size='4.73' text-anchor='middle' fill='#444' font-weight='normal' stroke='#444' stroke-width='0.18' transform='rotate(-90 267.8 595)'>(*2)</text>
<circle cx='261.3' cy='463.7' r='3.8' fill='#fff' stroke='#111' stroke-width='1.5'/>
<text x='261.3' y='465.4' font-size='4.73' text-anchor='middle' fill='#333' font-weight='normal' stroke='#333' stroke-width='0.18'>A</text>
<text x='256.3' y='465.5' font-size='5.25' text-anchor='end' fill='#333' font-weight='normal' stroke='#333' stroke-width='0.18'>5</text>
<text x='299.4' y='456' font-size='5.25' text-anchor='middle' fill='#333' font-weight='normal' stroke='#333' stroke-width='0.18'>WFR-</text>
<rect x='297.15' y='468' width='4.5' height='40' fill='#e12a2a'/>
<text x='296.4' y='490' font-size='4.73' text-anchor='middle' fill='#444' font-weight='normal' stroke='#444' stroke-width='0.18' transform='rotate(-90 296.4 490)'>R</text>
<text x='305.9' y='490' font-size='4.73' text-anchor='middle' fill='#444' font-weight='normal' stroke='#444' stroke-width='0.18' transform='rotate(-90 305.9 490)'>(*2)</text>
<polyline points='295.4,507 299.4,511 303.4,507' fill='none' stroke='#111' stroke-width='1.5'/>
<polyline points='295.4,504 299.4,508 303.4,504' fill='none' stroke='#111' stroke-width='1.5'/>
<polyline points='291.4,512.3 298.9,512.3 300.2,510.8' fill='none' stroke='#111' stroke-width='1.5'/>
<text x='291.4' y='518' font-size='5.25' text-anchor='end' fill='#333' font-weight='normal' stroke='#333' stroke-width='0.18'>11</text>
<rect x='297.15' y='520' width='4.5' height='38' fill='#e12a2a'/>
<text x='296.4' y='540' font-size='4.73' text-anchor='middle' fill='#444' font-weight='normal' stroke='#444' stroke-width='0.18' transform='rotate(-90 296.4 540)'>R</text>
<text x='305.9' y='540' font-size='4.73' text-anchor='middle' fill='#444' font-weight='normal' stroke='#444' stroke-width='0.18' transform='rotate(-90 305.9 540)'>(*2)</text>
<polyline points='295.4,557 299.4,561 303.4,557' fill='none' stroke='#111' stroke-width='1.5'/>
<polyline points='295.4,554 299.4,558 303.4,554' fill='none' stroke='#111' stroke-width='1.5'/>
<polyline points='291.4,562.3 298.9,562.3 300.2,560.8' fill='none' stroke='#111' stroke-width='1.5'/>
<text x='291.4' y='568' font-size='5.25' text-anchor='end' fill='#333' font-weight='normal' stroke='#333' stroke-width='0.18'>6</text>
<rect x='297.15' y='571.5' width='4.5' height='45.5' fill='#e12a2a'/>
<text x='296.4' y='595' font-size='4.73' text-anchor='middle' fill='#444' font-weight='normal' stroke='#444' stroke-width='0.18' transform='rotate(-90 296.4 595)'>R</text>
<text x='305.9' y='595' font-size='4.73' text-anchor='middle' fill='#444' font-weight='normal' stroke='#444' stroke-width='0.18' transform='rotate(-90 305.9 595)'>(*2)</text>
<circle cx='299.4' cy='463.7' r='3.8' fill='#fff' stroke='#111' stroke-width='1.5'/>
<text x='299.4' y='465.4' font-size='4.73' text-anchor='middle' fill='#333' font-weight='normal' stroke='#333' stroke-width='0.18'>A</text>
<text x='294.4' y='465.5' font-size='5.25' text-anchor='end' fill='#333' font-weight='normal' stroke='#333' stroke-width='0.18'>4</text>
<text x='344' y='456' font-size='5.25' text-anchor='middle' fill='#333' font-weight='normal' stroke='#333' stroke-width='0.18'>WFR+</text>
<rect x='341.15' y='468' width='5.70' height='40' fill='#c8c8c8'/>
<rect x='342.35' y='468' width='3.30' height='40' fill='#fff'/>
<text x='341' y='490' font-size='4.73' text-anchor='middle' fill='#444' font-weight='normal' stroke='#444' stroke-width='0.18' transform='rotate(-90 341 490)'>W</text>
<text x='350.5' y='490' font-size='4.73' text-anchor='middle' fill='#444' font-weight='normal' stroke='#444' stroke-width='0.18' transform='rotate(-90 350.5 490)'>(*2)</text>
<polyline points='340,507 344,511 348,507' fill='none' stroke='#111' stroke-width='1.5'/>
<polyline points='340,504 344,508 348,504' fill='none' stroke='#111' stroke-width='1.5'/>
<polyline points='336,512.3 343.5,512.3 344.8,510.8' fill='none' stroke='#111' stroke-width='1.5'/>
<text x='336' y='518' font-size='5.25' text-anchor='end' fill='#333' font-weight='normal' stroke='#333' stroke-width='0.18'>5</text>
<rect x='341.15' y='520' width='5.70' height='38' fill='#c8c8c8'/>
<rect x='342.35' y='520' width='3.30' height='38' fill='#fff'/>
<text x='341' y='540' font-size='4.73' text-anchor='middle' fill='#444' font-weight='normal' stroke='#444' stroke-width='0.18' transform='rotate(-90 341 540)'>W</text>
<text x='350.5' y='540' font-size='4.73' text-anchor='middle' fill='#444' font-weight='normal' stroke='#444' stroke-width='0.18' transform='rotate(-90 350.5 540)'>(*2)</text>
<polyline points='340,557 344,561 348,557' fill='none' stroke='#111' stroke-width='1.5'/>
<polyline points='340,554 344,558 348,554' fill='none' stroke='#111' stroke-width='1.5'/>
<polyline points='336,562.3 343.5,562.3 344.8,560.8' fill='none' stroke='#111' stroke-width='1.5'/>
<text x='336' y='568' font-size='5.25' text-anchor='end' fill='#333' font-weight='normal' stroke='#333' stroke-width='0.18'>5</text>
<rect x='341.15' y='571.5' width='5.70' height='45.5' fill='#c8c8c8'/>
<rect x='342.35' y='571.5' width='3.30' height='45.5' fill='#fff'/>
<text x='341' y='595' font-size='4.73' text-anchor='middle' fill='#444' font-weight='normal' stroke='#444' stroke-width='0.18' transform='rotate(-90 341 595)'>W</text>
<text x='350.5' y='595' font-size='4.73' text-anchor='middle' fill='#444' font-weight='normal' stroke='#444' stroke-width='0.18' transform='rotate(-90 350.5 595)'>(*2)</text>
<circle cx='344' cy='463.7' r='3.8' fill='#fff' stroke='#111' stroke-width='1.5'/>
<text x='344' y='465.4' font-size='4.73' text-anchor='middle' fill='#333' font-weight='normal' stroke='#333' stroke-width='0.18'>A</text>
<text x='339' y='465.5' font-size='5.25' text-anchor='end' fill='#333' font-weight='normal' stroke='#333' stroke-width='0.18'>2</text>
<text x='382.6' y='456' font-size='5.25' text-anchor='middle' fill='#333' font-weight='normal' stroke='#333' stroke-width='0.18'>RL-</text>
<rect x='380.35' y='468' width='4.5' height='40' fill='#f3e63c'/>
<text x='379.6' y='490' font-size='4.73' text-anchor='middle' fill='#444' font-weight='normal' stroke='#444' stroke-width='0.18' transform='rotate(-90 379.6 490)'>Y</text>
<text x='389.1' y='490' font-size='4.73' text-anchor='middle' fill='#444' font-weight='normal' stroke='#444' stroke-width='0.18' transform='rotate(-90 389.1 490)'>(*2)</text>
<polyline points='378.6,507 382.6,511 386.6,507' fill='none' stroke='#111' stroke-width='1.5'/>
<polyline points='378.6,504 382.6,508 386.6,504' fill='none' stroke='#111' stroke-width='1.5'/>
<polyline points='374.6,512.3 382.1,512.3 383.40000000000003,510.8' fill='none' stroke='#111' stroke-width='1.5'/>
<text x='374.6' y='518' font-size='5.25' text-anchor='end' fill='#333' font-weight='normal' stroke='#333' stroke-width='0.18'>11</text>
<rect x='380.35' y='520' width='4.5' height='38' fill='#f3e63c'/>
<text x='379.6' y='540' font-size='4.73' text-anchor='middle' fill='#444' font-weight='normal' stroke='#444' stroke-width='0.18' transform='rotate(-90 379.6 540)'>Y</text>
<text x='389.1' y='540' font-size='4.73' text-anchor='middle' fill='#444' font-weight='normal' stroke='#444' stroke-width='0.18' transform='rotate(-90 389.1 540)'>(*2)</text>
<polyline points='378.6,557 382.6,561 386.6,557' fill='none' stroke='#111' stroke-width='1.5'/>
<polyline points='378.6,554 382.6,558 386.6,554' fill='none' stroke='#111' stroke-width='1.5'/>
<polyline points='374.6,562.3 382.1,562.3 383.40000000000003,560.8' fill='none' stroke='#111' stroke-width='1.5'/>
<text x='374.6' y='568' font-size='5.25' text-anchor='end' fill='#333' font-weight='normal' stroke='#333' stroke-width='0.18'>7</text>
<rect x='379.75' y='571.5' width='5.70' height='45.5' fill='#c8c8c8'/>
<rect x='380.95' y='571.5' width='3.30' height='45.5' fill='#fff'/>
<text x='379.6' y='595' font-size='4.73' text-anchor='middle' fill='#444' font-weight='normal' stroke='#444' stroke-width='0.18' transform='rotate(-90 379.6 595)'>W</text>
<text x='389.1' y='595' font-size='4.73' text-anchor='middle' fill='#444' font-weight='normal' stroke='#444' stroke-width='0.18' transform='rotate(-90 389.1 595)'>(*2)</text>
<circle cx='382.6' cy='463.7' r='3.8' fill='#fff' stroke='#111' stroke-width='1.5'/>
<text x='382.6' y='465.4' font-size='4.73' text-anchor='middle' fill='#333' font-weight='normal' stroke='#333' stroke-width='0.18'>B</text>
<text x='377.6' y='465.5' font-size='5.25' text-anchor='end' fill='#333' font-weight='normal' stroke='#333' stroke-width='0.18'>11</text>
<text x='427.7' y='456' font-size='5.25' text-anchor='middle' fill='#333' font-weight='normal' stroke='#333' stroke-width='0.18'>RL+</text>
<rect x='425.45' y='468' width='4.5' height='40' fill='#111111'/>
<text x='424.7' y='490' font-size='4.73' text-anchor='middle' fill='#444' font-weight='normal' stroke='#444' stroke-width='0.18' transform='rotate(-90 424.7 490)'>B</text>
<text x='434.2' y='490' font-size='4.73' text-anchor='middle' fill='#444' font-weight='normal' stroke='#444' stroke-width='0.18' transform='rotate(-90 434.2 490)'>(*2)</text>
<polyline points='423.7,507 427.7,511 431.7,507' fill='none' stroke='#111' stroke-width='1.5'/>
<polyline points='423.7,504 427.7,508 431.7,504' fill='none' stroke='#111' stroke-width='1.5'/>
<polyline points='419.7,512.3 427.2,512.3 428.5,510.8' fill='none' stroke='#111' stroke-width='1.5'/>
<text x='419.7' y='518' font-size='5.25' text-anchor='end' fill='#333' font-weight='normal' stroke='#333' stroke-width='0.18'>1</text>
<rect x='425.45' y='520' width='4.5' height='38' fill='#111111'/>
<text x='424.7' y='540' font-size='4.73' text-anchor='middle' fill='#444' font-weight='normal' stroke='#444' stroke-width='0.18' transform='rotate(-90 424.7 540)'>B</text>
<text x='434.2' y='540' font-size='4.73' text-anchor='middle' fill='#444' font-weight='normal' stroke='#444' stroke-width='0.18' transform='rotate(-90 434.2 540)'>(*2)</text>
<polyline points='423.7,557 427.7,561 431.7,557' fill='none' stroke='#111' stroke-width='1.5'/>
<polyline points='423.7,554 427.7,558 431.7,554' fill='none' stroke='#111' stroke-width='1.5'/>
<polyline points='419.7,562.3 427.2,562.3 428.5,560.8' fill='none' stroke='#111' stroke-width='1.5'/>
<text x='419.7' y='568' font-size='5.25' text-anchor='end' fill='#333' font-weight='normal' stroke='#333' stroke-width='0.18'>3</text>
<rect x='425.45' y='571.5' width='4.5' height='45.5' fill='#111111'/>
<text x='424.7' y='595' font-size='4.73' text-anchor='middle' fill='#444' font-weight='normal' stroke='#444' stroke-width='0.18' transform='rotate(-90 424.7 595)'>B</text>
<text x='434.2' y='595' font-size='4.73' text-anchor='middle' fill='#444' font-weight='normal' stroke='#444' stroke-width='0.18' transform='rotate(-90 434.2 595)'>(*2)</text>
<circle cx='427.7' cy='463.7' r='3.8' fill='#fff' stroke='#111' stroke-width='1.5'/>
<text x='427.7' y='465.4' font-size='4.73' text-anchor='middle' fill='#333' font-weight='normal' stroke='#333' stroke-width='0.18'>B</text>
<text x='422.7' y='465.5' font-size='5.25' text-anchor='end' fill='#333' font-weight='normal' stroke='#333' stroke-width='0.18'>4</text>
<text x='487' y='456' font-size='5.25' text-anchor='middle' fill='#333' font-weight='normal' stroke='#333' stroke-width='0.18'>RR-</text>
<rect x='484.15' y='468' width='5.70' height='40' fill='#c8c8c8'/>
<rect x='485.35' y='468' width='3.30' height='40' fill='#fff'/>
<text x='484' y='490' font-size='4.73' text-anchor='middle' fill='#444' font-weight='normal' stroke='#444' stroke-width='0.18' transform='rotate(-90 484 490)'>W</text>
<text x='493.5' y='490' font-size='4.73' text-anchor='middle' fill='#444' font-weight='normal' stroke='#444' stroke-width='0.18' transform='rotate(-90 493.5 490)'>(*2)</text>
<polyline points='483,507 487,511 491,507' fill='none' stroke='#111' stroke-width='1.5'/>
<polyline points='483,504 487,508 491,504' fill='none' stroke='#111' stroke-width='1.5'/>
<polyline points='479,512.3 486.5,512.3 487.8,510.8' fill='none' stroke='#111' stroke-width='1.5'/>
<text x='479' y='518' font-size='5.25' text-anchor='end' fill='#333' font-weight='normal' stroke='#333' stroke-width='0.18'>7</text>
<rect x='484.15' y='520' width='5.70' height='97' fill='#c8c8c8'/>
<rect x='485.35' y='520' width='3.30' height='97' fill='#fff'/>
<text x='484' y='542' font-size='4.73' text-anchor='middle' fill='#444' font-weight='normal' stroke='#444' stroke-width='0.18' transform='rotate(-90 484 542)'>W</text>
<text x='493.5' y='542' font-size='4.73' text-anchor='middle' fill='#444' font-weight='normal' stroke='#444' stroke-width='0.18' transform='rotate(-90 493.5 542)'>(*2)</text>
<circle cx='487' cy='463.7' r='3.8' fill='#fff' stroke='#111' stroke-width='1.5'/>
<text x='487' y='465.4' font-size='4.73' text-anchor='middle' fill='#333' font-weight='normal' stroke='#333' stroke-width='0.18'>B</text>
<text x='482' y='465.5' font-size='5.25' text-anchor='end' fill='#333' font-weight='normal' stroke='#333' stroke-width='0.18'>12</text>
<text x='531.2' y='456' font-size='5.25' text-anchor='middle' fill='#333' font-weight='normal' stroke='#333' stroke-width='0.18'>RR+</text>
<rect x='528.95' y='468' width='4.5' height='40' fill='#e12a2a'/>
<text x='528.2' y='490' font-size='4.73' text-anchor='middle' fill='#444' font-weight='normal' stroke='#444' stroke-width='0.18' transform='rotate(-90 528.2 490)'>R</text>
<text x='537.7' y='490' font-size='4.73' text-anchor='middle' fill='#444' font-weight='normal' stroke='#444' stroke-width='0.18' transform='rotate(-90 537.7 490)'>(*2)</text>
<polyline points='527.2,507 531.2,511 535.2,507' fill='none' stroke='#111' stroke-width='1.5'/>
<polyline points='527.2,504 531.2,508 535.2,504' fill='none' stroke='#111' stroke-width='1.5'/>
<polyline points='523.2,512.3 530.7,512.3 532.0,510.8' fill='none' stroke='#111' stroke-width='1.5'/>
<text x='523.2' y='518' font-size='5.25' text-anchor='end' fill='#333' font-weight='normal' stroke='#333' stroke-width='0.18'>3</text>
<rect x='528.95' y='520' width='4.5' height='97' fill='#111111'/>
<text x='528.2' y='542' font-size='4.73' text-anchor='middle' fill='#444' font-weight='normal' stroke='#444' stroke-width='0.18' transform='rotate(-90 528.2 542)'>B</text>
<text x='537.7' y='542' font-size='4.73' text-anchor='middle' fill='#444' font-weight='normal' stroke='#444' stroke-width='0.18' transform='rotate(-90 537.7 542)'>(*2)</text>
<circle cx='531.2' cy='463.7' r='3.8' fill='#fff' stroke='#111' stroke-width='1.5'/>
<text x='531.2' y='465.4' font-size='4.73' text-anchor='middle' fill='#333' font-weight='normal' stroke='#333' stroke-width='0.18'>B</text>
<text x='526.2' y='465.5' font-size='5.25' text-anchor='end' fill='#333' font-weight='normal' stroke='#333' stroke-width='0.18'>5</text>
<text x='568.8' y='456' font-size='5.25' text-anchor='middle' fill='#333' font-weight='normal' stroke='#333' stroke-width='0.18'>SL-</text>
<rect x='566.55' y='468' width='4.5' height='40' fill='#8fcb8f'/>
<text x='565.8' y='490' font-size='4.73' text-anchor='middle' fill='#444' font-weight='normal' stroke='#444' stroke-width='0.18' transform='rotate(-90 565.8 490)'>LG</text>
<text x='575.3' y='490' font-size='4.73' text-anchor='middle' fill='#444' font-weight='normal' stroke='#444' stroke-width='0.18' transform='rotate(-90 575.3 490)'>(*2)</text>
<polyline points='564.8,507 568.8,511 572.8,507' fill='none' stroke='#111' stroke-width='1.5'/>
<polyline points='564.8,504 568.8,508 572.8,504' fill='none' stroke='#111' stroke-width='1.5'/>
<polyline points='560.8,512.3 568.3,512.3 569.5999999999999,510.8' fill='none' stroke='#111' stroke-width='1.5'/>
<text x='560.8' y='518' font-size='5.25' text-anchor='end' fill='#333' font-weight='normal' stroke='#333' stroke-width='0.18'>12</text>
<rect x='566.55' y='520' width='4.5' height='38' fill='#8fcb8f'/>
<text x='565.8' y='540' font-size='4.73' text-anchor='middle' fill='#444' font-weight='normal' stroke='#444' stroke-width='0.18' transform='rotate(-90 565.8 540)'>LG</text>
<text x='575.3' y='540' font-size='4.73' text-anchor='middle' fill='#444' font-weight='normal' stroke='#444' stroke-width='0.18' transform='rotate(-90 575.3 540)'>(*2)</text>
<polyline points='564.8,557 568.8,561 572.8,557' fill='none' stroke='#111' stroke-width='1.5'/>
<polyline points='564.8,554 568.8,558 572.8,554' fill='none' stroke='#111' stroke-width='1.5'/>
<polyline points='560.8,562.3 568.3,562.3 569.5999999999999,560.8' fill='none' stroke='#111' stroke-width='1.5'/>
<text x='560.8' y='568' font-size='5.25' text-anchor='end' fill='#333' font-weight='normal' stroke='#333' stroke-width='0.18'>8</text>
<rect x='566.55' y='571.5' width='4.5' height='45.5' fill='#8fcb8f'/>
<text x='565.8' y='595' font-size='4.73' text-anchor='middle' fill='#444' font-weight='normal' stroke='#444' stroke-width='0.18' transform='rotate(-90 565.8 595)'>LG</text>
<text x='575.3' y='595' font-size='4.73' text-anchor='middle' fill='#444' font-weight='normal' stroke='#444' stroke-width='0.18' transform='rotate(-90 575.3 595)'>(*2)</text>
<circle cx='568.8' cy='463.7' r='3.8' fill='#fff' stroke='#111' stroke-width='1.5'/>
<text x='568.8' y='465.4' font-size='4.73' text-anchor='middle' fill='#333' font-weight='normal' stroke='#333' stroke-width='0.18'>B</text>
<text x='563.8' y='465.5' font-size='5.25' text-anchor='end' fill='#333' font-weight='normal' stroke='#333' stroke-width='0.18'>6</text>
<text x='614.1' y='456' font-size='5.25' text-anchor='middle' fill='#333' font-weight='normal' stroke='#333' stroke-width='0.18'>SL+</text>
<rect x='611.85' y='468' width='4.5' height='40' fill='#2b9bc2'/>
<text x='611.1' y='490' font-size='4.73' text-anchor='middle' fill='#444' font-weight='normal' stroke='#444' stroke-width='0.18' transform='rotate(-90 611.1 490)'>L</text>
<text x='620.6' y='490' font-size='4.73' text-anchor='middle' fill='#444' font-weight='normal' stroke='#444' stroke-width='0.18' transform='rotate(-90 620.6 490)'>(*2)</text>
<polyline points='610.1,507 614.1,511 618.1,507' fill='none' stroke='#111' stroke-width='1.5'/>
<polyline points='610.1,504 614.1,508 618.1,504' fill='none' stroke='#111' stroke-width='1.5'/>
<polyline points='606.1,512.3 613.6,512.3 614.9,510.8' fill='none' stroke='#111' stroke-width='1.5'/>
<text x='606.1' y='518' font-size='5.25' text-anchor='end' fill='#333' font-weight='normal' stroke='#333' stroke-width='0.18'>2</text>
<rect x='611.85' y='520' width='4.5' height='38' fill='#2b9bc2'/>
<text x='611.1' y='540' font-size='4.73' text-anchor='middle' fill='#444' font-weight='normal' stroke='#444' stroke-width='0.18' transform='rotate(-90 611.1 540)'>L</text>
<text x='620.6' y='540' font-size='4.73' text-anchor='middle' fill='#444' font-weight='normal' stroke='#444' stroke-width='0.18' transform='rotate(-90 620.6 540)'>(*2)</text>
<polyline points='610.1,557 614.1,561 618.1,557' fill='none' stroke='#111' stroke-width='1.5'/>
<polyline points='610.1,554 614.1,558 618.1,554' fill='none' stroke='#111' stroke-width='1.5'/>
<polyline points='606.1,562.3 613.6,562.3 614.9,560.8' fill='none' stroke='#111' stroke-width='1.5'/>
<text x='606.1' y='568' font-size='5.25' text-anchor='end' fill='#333' font-weight='normal' stroke='#333' stroke-width='0.18'>4</text>
<rect x='611.85' y='571.5' width='4.5' height='45.5' fill='#2b9bc2'/>
<text x='611.1' y='595' font-size='4.73' text-anchor='middle' fill='#444' font-weight='normal' stroke='#444' stroke-width='0.18' transform='rotate(-90 611.1 595)'>L</text>
<text x='620.6' y='595' font-size='4.73' text-anchor='middle' fill='#444' font-weight='normal' stroke='#444' stroke-width='0.18' transform='rotate(-90 620.6 595)'>(*2)</text>
<circle cx='614.1' cy='463.7' r='3.8' fill='#fff' stroke='#111' stroke-width='1.5'/>
<text x='614.1' y='465.4' font-size='4.73' text-anchor='middle' fill='#333' font-weight='normal' stroke='#333' stroke-width='0.18'>B</text>
<text x='609.1' y='465.5' font-size='5.25' text-anchor='end' fill='#333' font-weight='normal' stroke='#333' stroke-width='0.18'>1</text>
<text x='650.7' y='456' font-size='5.25' text-anchor='middle' fill='#333' font-weight='normal' stroke='#333' stroke-width='0.18'>SR-</text>
<rect x='648.45' y='468' width='4.5' height='40' fill='#111111'/>
<text x='647.7' y='490' font-size='4.73' text-anchor='middle' fill='#444' font-weight='normal' stroke='#444' stroke-width='0.18' transform='rotate(-90 647.7 490)'>B</text>
<text x='657.2' y='490' font-size='4.73' text-anchor='middle' fill='#444' font-weight='normal' stroke='#444' stroke-width='0.18' transform='rotate(-90 657.2 490)'>(*2)</text>
<polyline points='646.7,507 650.7,511 654.7,507' fill='none' stroke='#111' stroke-width='1.5'/>
<polyline points='646.7,504 650.7,508 654.7,504' fill='none' stroke='#111' stroke-width='1.5'/>
<polyline points='642.7,512.3 650.2,512.3 651.5,510.8' fill='none' stroke='#111' stroke-width='1.5'/>
<text x='642.7' y='518' font-size='5.25' text-anchor='end' fill='#333' font-weight='normal' stroke='#333' stroke-width='0.18'>8</text>
<rect x='648.45' y='520' width='4.5' height='97' fill='#111111'/>
<text x='647.7' y='542' font-size='4.73' text-anchor='middle' fill='#444' font-weight='normal' stroke='#444' stroke-width='0.18' transform='rotate(-90 647.7 542)'>B</text>
<text x='657.2' y='542' font-size='4.73' text-anchor='middle' fill='#444' font-weight='normal' stroke='#444' stroke-width='0.18' transform='rotate(-90 657.2 542)'>(*2)</text>
<circle cx='650.7' cy='463.7' r='3.8' fill='#fff' stroke='#111' stroke-width='1.5'/>
<text x='650.7' y='465.4' font-size='4.73' text-anchor='middle' fill='#333' font-weight='normal' stroke='#333' stroke-width='0.18'>B</text>
<text x='645.7' y='465.5' font-size='5.25' text-anchor='end' fill='#333' font-weight='normal' stroke='#333' stroke-width='0.18'>7</text>
<polyline points='45,600 45,617 59.5,617' fill='none' stroke='#4b1c7d' stroke-width='4.5' stroke-linejoin='miter'/>
<polyline points='90,600 90,617 75.5,617' fill='none' stroke='#e27db9' stroke-width='4.5' stroke-linejoin='miter'/>
<polygon points='56.0,628.5 79.0,628.5 75.5,620.4 59.5,620.4' fill='#cde9f1' stroke='#111' stroke-width='1.4'/>
<rect x='59.5' y='613' width='16' height='7.4' fill='#cde9f1' stroke='#111' stroke-width='1.4'/>
<text x='56.5' y='614' font-size='5.25' text-anchor='middle' fill='#333' font-weight='normal' stroke='#333' stroke-width='0.18'>2</text>
<text x='78.5' y='614' font-size='5.25' text-anchor='middle' fill='#333' font-weight='normal' stroke='#333' stroke-width='0.18'>1</text>
<text x='53' y='635.0' font-size='5.46' text-anchor='start' fill='#333' font-weight='normal' stroke='#333' stroke-width='0.18'>D11</text>
<text x='53' y='640.8' font-size='5.46' text-anchor='start' fill='#333' font-weight='normal' stroke='#333' stroke-width='0.18'>Front No. 1 Speaker</text>
<text x='53' y='646.6' font-size='5.46' text-anchor='start' fill='#333' font-weight='normal' stroke='#333' stroke-width='0.18'>Assembly LH</text>
<polyline points='127.4,600 127.4,617 141.7,617' fill='none' stroke='#4b1c7d' stroke-width='4.5' stroke-linejoin='miter'/>
<polyline points='172,600 172,617 157.7,617' fill='none' stroke='#e27db9' stroke-width='4.5' stroke-linejoin='miter'/>
<polygon points='138.2,628.5 161.2,628.5 157.7,620.4 141.7,620.4' fill='#cde9f1' stroke='#111' stroke-width='1.4'/>
<rect x='141.7' y='613' width='16' height='7.4' fill='#cde9f1' stroke='#111' stroke-width='1.4'/>
<text x='138.7' y='614' font-size='5.25' text-anchor='middle' fill='#333' font-weight='normal' stroke='#333' stroke-width='0.18'>3</text>
<text x='160.7' y='614' font-size='5.25' text-anchor='middle' fill='#333' font-weight='normal' stroke='#333' stroke-width='0.18'>4</text>
<text x='135' y='635.0' font-size='5.46' text-anchor='start' fill='#333' font-weight='normal' stroke='#333' stroke-width='0.18'>D48</text>
<text x='135' y='640.8' font-size='5.46' text-anchor='start' fill='#333' font-weight='normal' stroke='#333' stroke-width='0.18'>Front No. 3 Speaker</text>
<text x='135' y='646.6' font-size='5.46' text-anchor='start' fill='#333' font-weight='normal' stroke='#333' stroke-width='0.18'>Assembly</text>
<polyline points='216.2,600 216.2,617 231.3,617' fill='none' stroke='#8fcb8f' stroke-width='4.5' stroke-linejoin='miter'/>
<polyline points='261.3,600 261.3,617 247.3,617' fill='none' stroke='#2b9bc2' stroke-width='4.5' stroke-linejoin='miter'/>
<polygon points='227.8,628.5 250.8,628.5 247.3,620.4 231.3,620.4' fill='#cde9f1' stroke='#111' stroke-width='1.4'/>
<rect x='231.3' y='613' width='16' height='7.4' fill='#cde9f1' stroke='#111' stroke-width='1.4'/>
<text x='228.3' y='614' font-size='5.25' text-anchor='middle' fill='#333' font-weight='normal' stroke='#333' stroke-width='0.18'>1</text>
<text x='250.3' y='614' font-size='5.25' text-anchor='middle' fill='#333' font-weight='normal' stroke='#333' stroke-width='0.18'>2</text>
<text x='217' y='635.0' font-size='5.46' text-anchor='start' fill='#333' font-weight='normal' stroke='#333' stroke-width='0.18'>H6</text>
<text x='217' y='640.8' font-size='5.46' text-anchor='start' fill='#333' font-weight='normal' stroke='#333' stroke-width='0.18'>Front No. 2 Speaker</text>
<text x='217' y='646.6' font-size='5.46' text-anchor='start' fill='#333' font-weight='normal' stroke='#333' stroke-width='0.18'>Assembly LH</text>
<polyline points='299.4,600 299.4,617 313.8,617' fill='none' stroke='#e12a2a' stroke-width='4.5' stroke-linejoin='miter'/>
<polyline points='344,600 344,617 329.8,617' fill='none' stroke='#c8c8c8' stroke-width='5.7' stroke-linejoin='miter'/>
<polyline points='344,600 344,617 329.8,617' fill='none' stroke='#fff' stroke-width='3.3' stroke-linejoin='miter'/>
<polygon points='310.3,628.5 333.3,628.5 329.8,620.4 313.8,620.4' fill='#cde9f1' stroke='#111' stroke-width='1.4'/>
<rect x='313.8' y='613' width='16' height='7.4' fill='#cde9f1' stroke='#111' stroke-width='1.4'/>
<text x='310.8' y='614' font-size='5.25' text-anchor='middle' fill='#333' font-weight='normal' stroke='#333' stroke-width='0.18'>2</text>
<text x='332.8' y='614' font-size='5.25' text-anchor='middle' fill='#333' font-weight='normal' stroke='#333' stroke-width='0.18'>1</text>
<text x='300' y='635.0' font-size='5.46' text-anchor='start' fill='#333' font-weight='normal' stroke='#333' stroke-width='0.18'>G8</text>
<text x='300' y='640.8' font-size='5.46' text-anchor='start' fill='#333' font-weight='normal' stroke='#333' stroke-width='0.18'>Front No. 2 Speaker</text>
<text x='300' y='646.6' font-size='5.46' text-anchor='start' fill='#333' font-weight='normal' stroke='#333' stroke-width='0.18'>Assembly RH</text>
<polyline points='382.6,600 382.6,617 396.3,617' fill='none' stroke='#c8c8c8' stroke-width='5.7' stroke-linejoin='miter'/>
<polyline points='382.6,600 382.6,617 396.3,617' fill='none' stroke='#fff' stroke-width='3.3' stroke-linejoin='miter'/>
<polyline points='427.7,600 427.7,617 412.3,617' fill='none' stroke='#111111' stroke-width='4.5' stroke-linejoin='miter'/>
<polygon points='392.8,628.5 415.8,628.5 412.3,620.4 396.3,620.4' fill='#cde9f1' stroke='#111' stroke-width='1.4'/>
<rect x='396.3' y='613' width='16' height='7.4' fill='#cde9f1' stroke='#111' stroke-width='1.4'/>
<text x='393.3' y='614' font-size='5.25' text-anchor='middle' fill='#333' font-weight='normal' stroke='#333' stroke-width='0.18'>2</text>
<text x='415.3' y='614' font-size='5.25' text-anchor='middle' fill='#333' font-weight='normal' stroke='#333' stroke-width='0.18'>1</text>
<text x='390' y='635.0' font-size='5.46' text-anchor='start' fill='#333' font-weight='normal' stroke='#333' stroke-width='0.18'>J2</text>
<text x='390' y='640.8' font-size='5.46' text-anchor='start' fill='#333' font-weight='normal' stroke='#333' stroke-width='0.18'>Rear Speaker</text>
<text x='390' y='646.6' font-size='5.46' text-anchor='start' fill='#333' font-weight='normal' stroke='#333' stroke-width='0.18'>Assembly LH</text>
<polyline points='487,600 487,617 501.6,617' fill='none' stroke='#c8c8c8' stroke-width='5.7' stroke-linejoin='miter'/>
<polyline points='487,600 487,617 501.6,617' fill='none' stroke='#fff' stroke-width='3.3' stroke-linejoin='miter'/>
<polyline points='531.2,600 531.2,617 517.6,617' fill='none' stroke='#111111' stroke-width='4.5' stroke-linejoin='miter'/>
<polygon points='498.1,628.5 521.1,628.5 517.6,620.4 501.6,620.4' fill='#cde9f1' stroke='#111' stroke-width='1.4'/>
<rect x='501.6' y='613' width='16' height='7.4' fill='#cde9f1' stroke='#111' stroke-width='1.4'/>
<text x='498.6' y='614' font-size='5.25' text-anchor='middle' fill='#333' font-weight='normal' stroke='#333' stroke-width='0.18'>2</text>
<text x='520.6' y='614' font-size='5.25' text-anchor='middle' fill='#333' font-weight='normal' stroke='#333' stroke-width='0.18'>1</text>
<text x='487' y='635.0' font-size='5.46' text-anchor='start' fill='#333' font-weight='normal' stroke='#333' stroke-width='0.18'>Q</text>
<text x='487' y='640.8' font-size='5.46' text-anchor='start' fill='#333' font-weight='normal' stroke='#333' stroke-width='0.18'>Rear Speaker</text>
<text x='487' y='646.6' font-size='5.46' text-anchor='start' fill='#333' font-weight='normal' stroke='#333' stroke-width='0.18'>Assembly RH</text>
<polyline points='568.8,600 568.8,617 583.5,617' fill='none' stroke='#8fcb8f' stroke-width='4.5' stroke-linejoin='miter'/>
<polyline points='614.1,600 614.1,617 599.5,617' fill='none' stroke='#2b9bc2' stroke-width='4.5' stroke-linejoin='miter'/>
<polygon points='580.0,628.5 603.0,628.5 599.5,620.4 583.5,620.4' fill='#cde9f1' stroke='#111' stroke-width='1.4'/>
<rect x='583.5' y='613' width='16' height='7.4' fill='#cde9f1' stroke='#111' stroke-width='1.4'/>
<text x='580.5' y='614' font-size='5.25' text-anchor='middle' fill='#333' font-weight='normal' stroke='#333' stroke-width='0.18'>2</text>
<text x='602.5' y='614' font-size='5.25' text-anchor='middle' fill='#333' font-weight='normal' stroke='#333' stroke-width='0.18'>1</text>
<text x='570' y='635.0' font-size='5.46' text-anchor='start' fill='#333' font-weight='normal' stroke='#333' stroke-width='0.18'>O2</text>
<text x='570' y='640.8' font-size='5.46' text-anchor='start' fill='#333' font-weight='normal' stroke='#333' stroke-width='0.18'>Quarter Side Speaker</text>
<text x='570' y='646.6' font-size='5.46' text-anchor='start' fill='#333' font-weight='normal' stroke='#333' stroke-width='0.18'>Assembly LH</text>
<polyline points='650.7,600 650.7,617 664,617' fill='none' stroke='#111111' stroke-width='4.5' stroke-linejoin='miter'/>
<polygon points='660.5,628.5 683.5,628.5 680,620.4 664,620.4' fill='#cde9f1' stroke='#111' stroke-width='1.4'/>
<rect x='664' y='613' width='16' height='7.4' fill='#cde9f1' stroke='#111' stroke-width='1.4'/>
<text x='661' y='614' font-size='5.25' text-anchor='middle' fill='#333' font-weight='normal' stroke='#333' stroke-width='0.18'>2</text>
<text x='659' y='635.0' font-size='5.46' text-anchor='start' fill='#333' font-weight='normal' stroke='#333' stroke-width='0.18'>S2</text>
<text x='659' y='640.8' font-size='5.46' text-anchor='start' fill='#333' font-weight='normal' stroke='#333' stroke-width='0.18'>Quarter Side Speaker</text>
<text x='659' y='646.6' font-size='5.46' text-anchor='start' fill='#333' font-weight='normal' stroke='#333' stroke-width='0.18'>Assembly RH</text>
</g>
<rect x='0' y='0' width='675' height='104' fill='url(#hg)'/>
<rect x='0' y='101.6' width='675' height='2.4' fill='#060606'/>
<rect x='0' y='105.5' width='675' height='1' fill='#f3f3f3'/>
<rect x='10.5' y='19' width='4.5' height='5' rx='0.8' fill='#080808'/>
<rect x='17.5' y='16' width='4.5' height='8' rx='0.8' fill='#080808'/>
<rect x='24.5' y='13' width='4.5' height='11' rx='0.8' fill='#232323'/>
<rect x='31.5' y='10' width='4.5' height='14' rx='0.8' fill='#232323'/>
<text x='45.5' y='23.3' font-size='19' text-anchor='start' fill='#080808' font-weight='normal'>activ</text>
<text x='103.5' y='23.3' font-size='18.5' text-anchor='start' fill='#080808' font-weight='normal'>4G</text>
<text x='337.8' y='23.3' font-size='18.5' text-anchor='middle' fill='#080808' font-weight='bold' letter-spacing='0.8'>17:25</text>
<text x='575' y='23.3' font-size='18.8' fill='#0a0a0a' letter-spacing='1.2'>13 %</text>
<polygon points='530.5,16.8 545,10 539,23.5 537.5,18.3' fill='#080808'/>
<circle cx='563.3' cy='17.2' r='6.3' fill='#080808'/><rect x='556.5' y='9.5' width='4' height='4' fill='#080808'/><rect x='566' y='9.5' width='4' height='4' fill='#080808'/><rect x='557.5' y='21' width='11.5' height='2.8' fill='#080808'/>
<rect x='626' y='9.5' width='37' height='14' rx='3.5' fill='none' stroke='#141414' stroke-width='1.3'/>
<rect x='664' y='14' width='1.8' height='5' fill='#141414'/>
<rect x='628.5' y='10' width='5' height='12' rx='2' fill='#e8d33e'/>
<polygon points='647,9 638.5,18.5 643,18.5 640.5,25 649.5,15 645,15' fill='#080808'/>
<polyline points='64.5,48.8 44.8,68 64.5,87.2' fill='none' stroke='#a3c2ec' stroke-width='3.3' stroke-linecap='butt' stroke-linejoin='miter'/>
<text x='338.3' y='77.2' font-size='23.4' text-anchor='middle' fill='#f4f4f4' stroke='#f4f4f4' stroke-width='0.75' letter-spacing='0.62'>w/ Navigation System-01</text>
<rect x='0' y='1102' width='675' height='98' fill='#111'/>
<rect x='2' y='1104' width='671' height='94' fill='#f0f0f0'/>
<rect x='3' y='1105' width='669' height='92' fill='#cdcdcd'/>
<rect x='119' y='1132.3' width='29.6' height='28' fill='none' stroke='#161616' stroke-width='2.2'/>
<line x1='133.8' y1='1124' x2='133.8' y2='1149.5' stroke='#161616' stroke-width='2'/>
<polyline points='127,1142.5 133.8,1149.3 140.6,1142.5' fill='none' stroke='#161616' stroke-width='2'/>
<polygon points='187,1128 211.2,1128 211.2,1159.2 199.1,1151.8 187,1159.2' fill='none' stroke='#161616' stroke-width='2.1' stroke-linejoin='miter'/>
<line x1='199' y1='1134' x2='199' y2='1147.2' stroke='#161616' stroke-width='1.8'/><line x1='192.4' y1='1140.6' x2='205.6' y2='1140.6' stroke='#161616' stroke-width='1.8'/>
<circle cx='264.4' cy='1142.2' r='24.5' fill='#121212'/>
<g transform='translate(248.2 1126.3) scale(0.255)'>
<path d='M27.2 80c0 7.3-5.9 13.2-13.2 13.2C6.7 93.2.8 87.3.8 80c0-7.3 5.9-13.2 13.2-13.2h13.2V80zm6.6 0c0-7.3 5.9-13.2 13.2-13.2 7.3 0 13.2 5.9 13.2 13.2v33c0 7.3-5.9 13.2-13.2 13.2-7.3 0-13.2-5.9-13.2-13.2V80z' fill='#E01E5A'/>
<path d='M47 27c-7.3 0-13.2-5.9-13.2-13.2C33.8 6.5 39.7.6 47 .6c7.3 0 13.2 5.9 13.2 13.2V27H47zm0 6.7c7.3 0 13.2 5.9 13.2 13.2 0 7.3-5.9 13.2-13.2 13.2H13.9C6.6 60.1.7 54.2.7 46.9c0-7.3 5.9-13.2 13.2-13.2H47z' fill='#36C5F0'/>
<path d='M99.9 46.9c0-7.3 5.9-13.2 13.2-13.2 7.3 0 13.2 5.9 13.2 13.2 0 7.3-5.9 13.2-13.2 13.2H99.9V46.9zm-6.6 0c0 7.3-5.9 13.2-13.2 13.2-7.3 0-13.2-5.9-13.2-13.2V13.8C66.9 6.5 72.8.6 80.1.6c7.3 0 13.2 5.9 13.2 13.2v33.1z' fill='#2EB67D'/>
<path d='M80.1 99.8c7.3 0 13.2 5.9 13.2 13.2 0 7.3-5.9 13.2-13.2 13.2-7.3 0-13.2-5.9-13.2-13.2V99.8h13.2zm0-6.6c-7.3 0-13.2-5.9-13.2-13.2 0-7.3 5.9-13.2 13.2-13.2h33.1c7.3 0 13.2 5.9 13.2 13.2 0 7.3-5.9 13.2-13.2 13.2H80.1z' fill='#ECB22E'/>
</g>
<circle cx='337.5' cy='1142.7' r='31.8' fill='none' stroke='#111' stroke-width='2.4'/>
<polygon points='318.5,1124.0 333.0,1124.0 328.1,1128.8 334.9,1135.8 330.4,1140.4 323.3,1133.6 318.5,1138.5' fill='none' stroke='#1a1a1a' stroke-width='1.7' stroke-linejoin='miter'/>
<polygon points='356.7,1124.0 342.2,1124.0 347.1,1128.8 340.3,1135.8 344.8,1140.4 351.9,1133.6 356.7,1138.5' fill='none' stroke='#1a1a1a' stroke-width='1.7' stroke-linejoin='miter'/>
<polygon points='318.5,1161.2 333.0,1161.2 328.1,1156.4 334.9,1149.4 330.4,1144.8 323.3,1151.6 318.5,1146.7' fill='none' stroke='#1a1a1a' stroke-width='1.7' stroke-linejoin='miter'/>
<polygon points='356.7,1161.2 342.2,1161.2 347.1,1156.4 340.3,1149.4 344.8,1144.8 351.9,1151.6 356.7,1146.7' fill='none' stroke='#1a1a1a' stroke-width='1.7' stroke-linejoin='miter'/>
<path d='M528.5,1138 V1124 Q528.5,1122.2 530.3,1122.2 H547.5 L553,1127.7 V1138' fill='#d6d6d6' stroke='#111' stroke-width='2'/>
<path d='M546.5,1122.5 V1128.5 H552.5' fill='none' stroke='#111' stroke-width='1.2'/>
<path d='M523,1135.2 H563 V1154.2 H523 Q520.6,1154.2 520.6,1151.8 V1137.6 Q520.6,1135.2 523,1135.2 Z' fill='#111'/>
<rect x='529.5' y='1143.2' width='23.4' height='18.8' rx='1.2' fill='#d6d6d6' stroke='#111' stroke-width='2'/>
<circle cx='559' cy='1138.5' r='1' fill='#ddd'/>
<circle cx='575' cy='1164.2' r='10' fill='#6b6b6b'/>
<path d='M571,1172 V1163 L568.5,1158.5 M571,1163 H578 M578,1172 V1163 L581,1158 M574.5,1160 V1156' fill='none' stroke='#cdcdcd' stroke-width='2'/>
<circle cx='574.8' cy='1157.5' r='1.8' fill='#cdcdcd'/>
<text x='592.5' y='1169.3' font-size='15.6' text-anchor='start' fill='#6b6b6b' font-weight='bold'>Kaspi.kz</text>
</svg></body></html>
